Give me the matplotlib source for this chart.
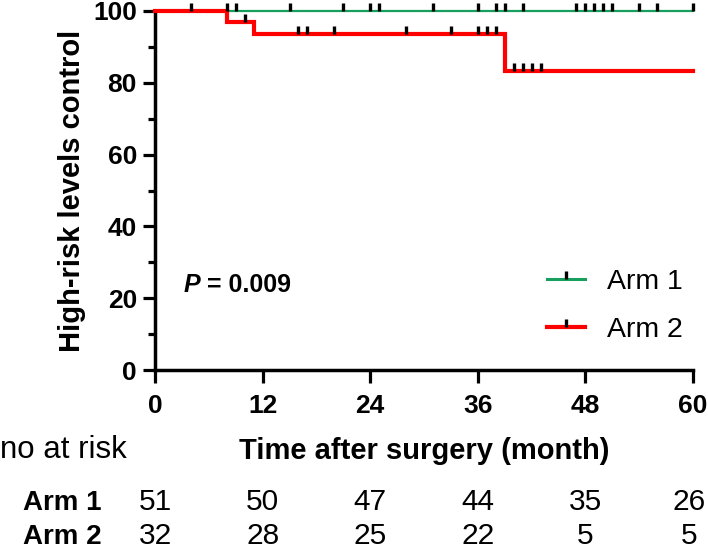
import matplotlib
matplotlib.use("Agg")
import matplotlib.pyplot as plt
import numpy as np
from matplotlib.lines import Line2D
from matplotlib.transforms import blended_transform_factory, offset_copy

plt.rcParams['font.family'] = ['Liberation Sans', 'DejaVu Sans']

# ---- data ----
arm1_times = [0, 60]
arm1_surv = [100, 100]
arm1_censor = [4, 8, 9, 15, 21, 24, 25, 31, 36, 38, 39, 41, 47, 48, 49, 50, 51, 54, 56, 60]

arm2_times = [0, 8, 11, 39, 60]
arm2_surv = [100, 96.9, 93.6, 83.2, 83.2]
arm2_censor = [10, 16, 17, 20, 28, 33, 36, 37, 38, 40, 41, 42, 43]

risk_times = [0, 12, 24, 36, 48, 60]
risk_arm1 = [51, 50, 47, 44, 35, 26]
risk_arm2 = [32, 28, 25, 22, 5, 5]

series_names = ["Arm 1", "Arm 2"]
p_value = "0.009"

GREEN = '#17A05D'
RED = '#FF0000'

W, H = 708, 550
fig = plt.figure(figsize=(W / 100, H / 100), dpi=100)
ax = fig.add_axes([155 / W, 1 - 370 / H, (693 - 155) / W, (370 - 11) / H])


def step_value(times, surv, t):
    idx = np.searchsorted(times, t, side='right') - 1
    return np.asarray(surv)[idx]


for times, surv, cens, col, lw in [
    (arm1_times, arm1_surv, arm1_censor, GREEN, 1.6),
    (arm2_times, arm2_surv, arm2_censor, RED, 3.0),
]:
    ax.step(times, surv, where='post', color=col, lw=lw, clip_on=False, zorder=3,
            solid_joinstyle='miter')
    cy = [step_value(times, surv, t) for t in cens]
    ax.plot(cens, cy, linestyle='none', marker=2, markersize=5.5, mew=2.4,
            mec='black', clip_on=False, zorder=4)

ax.set_xlim(0, 60)
ax.set_ylim(0, 100)
ax.set_xticks(risk_times)
ax.set_yticks([0, 20, 40, 60, 80, 100])
ax.set_yticks([10, 30, 50, 70, 90], minor=True)

for s in ['top', 'right']:
    ax.spines[s].set_visible(False)
for s in ['left', 'bottom']:
    ax.spines[s].set_linewidth(2.5)

ax.tick_params(axis='both', which='major', length=9, width=2.3, labelsize=19, direction='out')
ax.tick_params(axis='y', which='major', pad=4)
ax.tick_params(axis='x', which='major', pad=8)
ax.tick_params(axis='y', which='minor', length=5, width=2.3)
for lab in ax.get_xticklabels() + ax.get_yticklabels():
    lab.set_fontweight('bold')

ax.set_ylabel("High-risk levels control", fontsize=21, fontweight='bold', labelpad=5)
ax.set_xlabel("Time after surgery (month)", fontsize=21, fontweight='bold', labelpad=14)

tp = ax.text(3.2, 21.8, "P", fontsize=18, fontweight='bold', fontstyle='italic',
             ha='left', va='baseline')
ax.annotate(" = " + p_value, xy=(1, 0), xycoords=tp, fontsize=18, fontweight='bold',
            ha='left', va='bottom')

handles = [
    Line2D([], [], color=GREEN, lw=2.2, marker=2, markersize=5.5, mew=2.4, mec='black'),
    Line2D([], [], color=RED, lw=3.0, marker=2, markersize=5.5, mew=2.4, mec='black'),
]
ax.legend(handles, series_names, loc='center left', frameon=False, fontsize=20.5,
          bbox_to_anchor=(547 / W, 1 - 306 / H), bbox_transform=fig.transFigure,
          borderpad=0, borderaxespad=0, handlelength=1.33, handletextpad=0.77,
          labelspacing=0.8, numpoints=1)

# ---- number at risk table ----
fig.text(0 / W, 1 - 458 / H, "no at risk", fontsize=22.5, ha='left', va='baseline')
tr = blended_transform_factory(ax.transData, fig.transFigure)
tr_last = offset_copy(tr, fig=fig, x=-2.5, units='points')
for name, vals, base in [(series_names[0], risk_arm1, 510), (series_names[1], risk_arm2, 544)]:
    fig.text(23 / W, 1 - base / H, name, fontsize=20, fontweight='bold', ha='left', va='baseline')
    for i, (t, v) in enumerate(zip(risk_times, vals)):
        ax.text(t, 1 - base / H, str(v), fontsize=21.5, ha='center', va='baseline',
                transform=tr_last if i == len(risk_times) - 1 else tr, clip_on=False)

fig.savefig("out.png", dpi=100)
